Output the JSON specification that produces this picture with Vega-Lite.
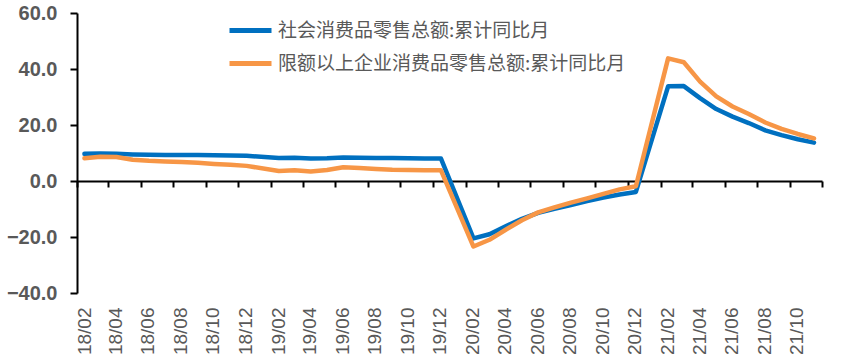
{
  "$schema": "https://vega.github.io/schema/vega-lite/v6.json",
  "width": 745,
  "height": 280,
  "autosize": "none",
  "padding": {"left": 77, "top": 13, "right": 35, "bottom": 70},
  "background": "white",
  "config": {"view": {"stroke": null}},
  "data": {
    "values": [
      {"month": "2018-02", "社会消费品零售总额:累计同比月": 9.7, "限额以上企业消费品零售总额:累计同比月": 8.1},
      {"month": "2018-03", "社会消费品零售总额:累计同比月": 9.8, "限额以上企业消费品零售总额:累计同比月": 8.7},
      {"month": "2018-04", "社会消费品零售总额:累计同比月": 9.7, "限额以上企业消费品零售总额:累计同比月": 8.6},
      {"month": "2018-05", "社会消费品零售总额:累计同比月": 9.5, "限额以上企业消费品零售总额:累计同比月": 7.6},
      {"month": "2018-06", "社会消费品零售总额:累计同比月": 9.4, "限额以上企业消费品零售总额:累计同比月": 7.2},
      {"month": "2018-07", "社会消费品零售总额:累计同比月": 9.3, "限额以上企业消费品零售总额:累计同比月": 7.0},
      {"month": "2018-08", "社会消费品零售总额:累计同比月": 9.3, "限额以上企业消费品零售总额:累计同比月": 6.8},
      {"month": "2018-09", "社会消费品零售总额:累计同比月": 9.3, "限额以上企业消费品零售总额:累计同比月": 6.5},
      {"month": "2018-10", "社会消费品零售总额:累计同比月": 9.2, "限额以上企业消费品零售总额:累计同比月": 6.1},
      {"month": "2018-11", "社会消费品零售总额:累计同比月": 9.1, "限额以上企业消费品零售总额:累计同比月": 5.8},
      {"month": "2018-12", "社会消费品零售总额:累计同比月": 9.0, "限额以上企业消费品零售总额:累计同比月": 5.4},
      {"month": "2019-02", "社会消费品零售总额:累计同比月": 8.2, "限额以上企业消费品零售总额:累计同比月": 3.6},
      {"month": "2019-03", "社会消费品零售总额:累计同比月": 8.3, "限额以上企业消费品零售总额:累计同比月": 3.8},
      {"month": "2019-04", "社会消费品零售总额:累计同比月": 8.0, "限额以上企业消费品零售总额:累计同比月": 3.4},
      {"month": "2019-05", "社会消费品零售总额:累计同比月": 8.1, "限额以上企业消费品零售总额:累计同比月": 3.9},
      {"month": "2019-06", "社会消费品零售总额:累计同比月": 8.4, "限额以上企业消费品零售总额:累计同比月": 4.9},
      {"month": "2019-07", "社会消费品零售总额:累计同比月": 8.3, "限额以上企业消费品零售总额:累计同比月": 4.6},
      {"month": "2019-08", "社会消费品零售总额:累计同比月": 8.2, "限额以上企业消费品零售总额:累计同比月": 4.3},
      {"month": "2019-09", "社会消费品零售总额:累计同比月": 8.2, "限额以上企业消费品零售总额:累计同比月": 4.0},
      {"month": "2019-10", "社会消费品零售总额:累计同比月": 8.1, "限额以上企业消费品零售总额:累计同比月": 3.9},
      {"month": "2019-11", "社会消费品零售总额:累计同比月": 8.0, "限额以上企业消费品零售总额:累计同比月": 3.8},
      {"month": "2019-12", "社会消费品零售总额:累计同比月": 8.0, "限额以上企业消费品零售总额:累计同比月": 3.8},
      {"month": "2020-02", "社会消费品零售总额:累计同比月": -20.5, "限额以上企业消费品零售总额:累计同比月": -23.4},
      {"month": "2020-03", "社会消费品零售总额:累计同比月": -19.0, "限额以上企业消费品零售总额:累计同比月": -21.0},
      {"month": "2020-04", "社会消费品零售总额:累计同比月": -16.2, "限额以上企业消费品零售总额:累计同比月": -17.4},
      {"month": "2020-05", "社会消费品零售总额:累计同比月": -13.5, "限额以上企业消费品零售总额:累计同比月": -14.0},
      {"month": "2020-06", "社会消费品零售总额:累计同比月": -11.4, "限额以上企业消费品零售总额:累计同比月": -11.2},
      {"month": "2020-07", "社会消费品零售总额:累计同比月": -9.9, "限额以上企业消费品零售总额:累计同比月": -9.4},
      {"month": "2020-08", "社会消费品零售总额:累计同比月": -8.6, "限额以上企业消费品零售总额:累计同比月": -7.7},
      {"month": "2020-09", "社会消费品零售总额:累计同比月": -7.2, "限额以上企业消费品零售总额:累计同比月": -6.2},
      {"month": "2020-10", "社会消费品零售总额:累计同比月": -5.9, "限额以上企业消费品零售总额:累计同比月": -4.6},
      {"month": "2020-11", "社会消费品零售总额:累计同比月": -4.8, "限额以上企业消费品零售总额:累计同比月": -3.0},
      {"month": "2020-12", "社会消费品零售总额:累计同比月": -3.9, "限额以上企业消费品零售总额:累计同比月": -1.9},
      {"month": "2021-02", "社会消费品零售总额:累计同比月": 33.8, "限额以上企业消费品零售总额:累计同比月": 43.8},
      {"month": "2021-03", "社会消费品零售总额:累计同比月": 33.9, "限额以上企业消费品零售总额:累计同比月": 42.4},
      {"month": "2021-04", "社会消费品零售总额:累计同比月": 29.6, "限额以上企业消费品零售总额:累计同比月": 35.5},
      {"month": "2021-05", "社会消费品零售总额:累计同比月": 25.7, "限额以上企业消费品零售总额:累计同比月": 30.2},
      {"month": "2021-06", "社会消费品零售总额:累计同比月": 23.0, "限额以上企业消费品零售总额:累计同比月": 26.6},
      {"month": "2021-07", "社会消费品零售总额:累计同比月": 20.7, "限额以上企业消费品零售总额:累计同比月": 23.9},
      {"month": "2021-08", "社会消费品零售总额:累计同比月": 18.1, "限额以上企业消费品零售总额:累计同比月": 20.9},
      {"month": "2021-09", "社会消费品零售总额:累计同比月": 16.4, "限额以上企业消费品零售总额:累计同比月": 18.6},
      {"month": "2021-10", "社会消费品零售总额:累计同比月": 14.9, "限额以上企业消费品零售总额:累计同比月": 16.8},
      {"month": "2021-11", "社会消费品零售总额:累计同比月": 13.7, "限额以上企业消费品零售总额:累计同比月": 15.2}
    ]
  },
  "transform": [
    {"fold": ["社会消费品零售总额:累计同比月", "限额以上企业消费品零售总额:累计同比月"], "as": ["series", "value"]}
  ],
  "mark": {"type": "line", "strokeWidth": 4.5, "strokeCap": "round", "strokeJoin": "round"},
  "encoding": {
    "x": {
      "field": "month",
      "type": "temporal",
      "timeUnit": "utcyearmonth",
      "bandPosition": 0.5,
      "scale": {
        "nice": false,
        "domain": [
          {"year": 2018, "month": 2, "date": 1, "utc": true},
          {"year": 2021, "month": 12, "date": 1, "utc": true}
        ]
      },
      "axis": {
        "title": null,
        "offset": -112,
        "values": [
          {"year": 2018, "month": 2, "date": 1, "utc": true},
          {"year": 2018, "month": 4, "date": 1, "utc": true},
          {"year": 2018, "month": 6, "date": 1, "utc": true},
          {"year": 2018, "month": 8, "date": 1, "utc": true},
          {"year": 2018, "month": 10, "date": 1, "utc": true},
          {"year": 2018, "month": 12, "date": 1, "utc": true},
          {"year": 2019, "month": 2, "date": 1, "utc": true},
          {"year": 2019, "month": 4, "date": 1, "utc": true},
          {"year": 2019, "month": 6, "date": 1, "utc": true},
          {"year": 2019, "month": 8, "date": 1, "utc": true},
          {"year": 2019, "month": 10, "date": 1, "utc": true},
          {"year": 2019, "month": 12, "date": 1, "utc": true},
          {"year": 2020, "month": 2, "date": 1, "utc": true},
          {"year": 2020, "month": 4, "date": 1, "utc": true},
          {"year": 2020, "month": 6, "date": 1, "utc": true},
          {"year": 2020, "month": 8, "date": 1, "utc": true},
          {"year": 2020, "month": 10, "date": 1, "utc": true},
          {"year": 2020, "month": 12, "date": 1, "utc": true},
          {"year": 2021, "month": 2, "date": 1, "utc": true},
          {"year": 2021, "month": 4, "date": 1, "utc": true},
          {"year": 2021, "month": 6, "date": 1, "utc": true},
          {"year": 2021, "month": 8, "date": 1, "utc": true},
          {"year": 2021, "month": 10, "date": 1, "utc": true},
          {"year": 2021, "month": 12, "date": 1, "utc": true}
        ],
        "labelExpr": "datum.value >= utc(2021, 11, 1) ? '' : utcFormat(datum.value, '%y/%m')",
        "labelAngle": 270,
        "labelPadding": 120,
        "labelOffset": 7,
        "labelFlush": false,
        "labelOverlap": false,
        "labelBound": false,
        "labelFont": "Liberation Sans",
        "labelFontSize": 19,
        "labelColor": "#595959",
        "domainColor": "black",
        "domainWidth": 2,
        "tickColor": "black",
        "tickWidth": 2,
        "tickSize": 6,
        "grid": false
      }
    },
    "y": {
      "field": "value",
      "type": "quantitative",
      "scale": {"domain": [-40, 60], "nice": false, "zero": false},
      "axis": {
        "title": null,
        "values": [-40, -20, 0, 20, 40, 60],
        "format": ".1f",
        "labelFont": "Liberation Sans",
        "labelFontSize": 20,
        "labelFontWeight": "bold",
        "labelColor": "#595959",
        "labelPadding": 13,
        "domainColor": "black",
        "domainWidth": 2,
        "tickColor": "black",
        "tickWidth": 2,
        "tickSize": 7,
        "grid": false
      }
    },
    "color": {
      "field": "series",
      "type": "nominal",
      "scale": {
        "domain": ["社会消费品零售总额:累计同比月", "限额以上企业消费品零售总额:累计同比月"],
        "range": ["#0070C0", "#F79646"]
      },
      "legend": {
        "title": null,
        "orient": "none",
        "legendX": 161,
        "legendY": 5,
        "direction": "vertical",
        "padding": 0,
        "symbolType": "M-2.1,0H2.1",
        "symbolSize": 400,
        "symbolStrokeWidth": 5,
        "rowPadding": 10,
        "labelOffset": 15,
        "labelFont": "Noto Sans CJK SC",
        "labelFontSize": 19,
        "labelColor": "#595959",
        "labelLimit": 0
      }
    }
  }
}
